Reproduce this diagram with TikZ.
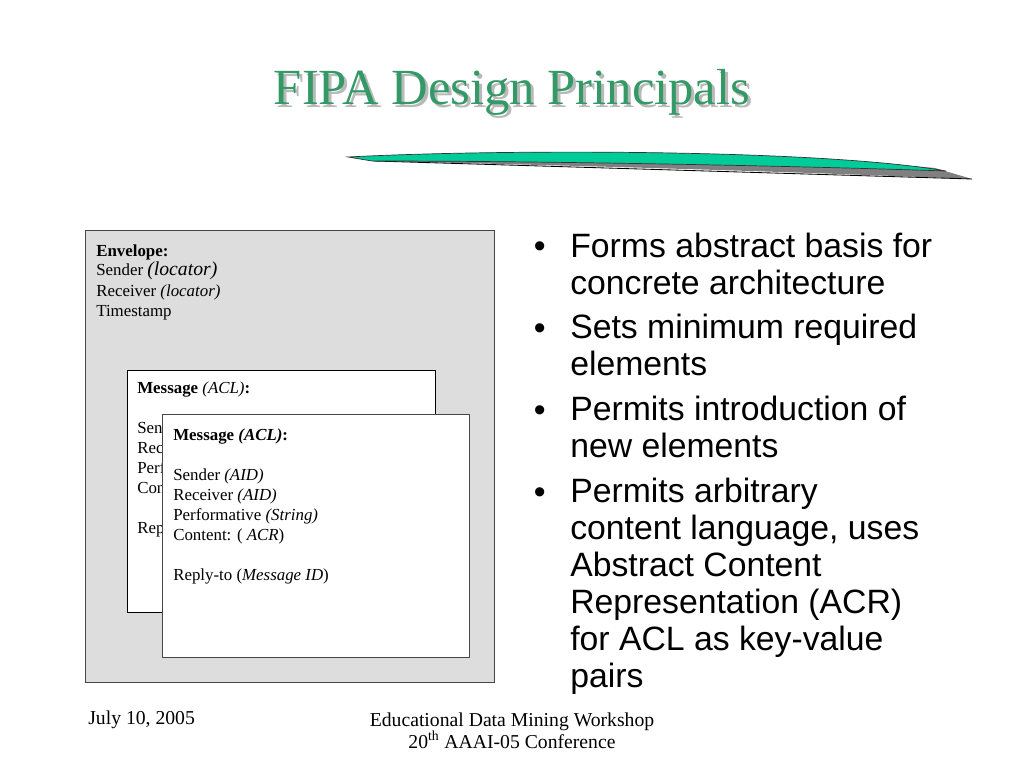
\documentclass[tikz,border=0pt]{standalone}
\usepackage{fontspec}
\setmainfont{Liberation Serif}
\newfontfamily\bulletfont{Liberation Sans}
\usetikzlibrary{positioning}
\definecolor{titlegreen}{RGB}{51,153,102}
\definecolor{swooshgreen}{RGB}{0,204,153}
\definecolor{envgray}{RGB}{221,221,221}
\definecolor{edgegray}{RGB}{70,70,70}

\begin{document}
\begin{tikzpicture}[x=0.025cm,y=-0.025cm,
  boxtext/.style={anchor=base west,inner sep=0pt,align=left,font=\fontsize{12}{14.2}\selectfont},
  bullettext/.style={anchor=base west,inner sep=0pt,align=left,font=\bulletfont\fontsize{24}{26.3}\selectfont},
  foot/.style={anchor=base,inner sep=0pt,align=center,font=\fontsize{14}{17}\selectfont}]
  \useasboundingbox (0,0) rectangle (1024,768);
  \fill[white] (0,0) rectangle (1024,768);
  % title with shadow
  \node[anchor=base,inner sep=0pt,text=gray!55,font=\fontsize{36}{40}\selectfont] at (515,108) {FIPA Design Principals};
  \node[anchor=base,inner sep=0pt,text=titlegreen,font=\fontsize{36}{40}\selectfont] (title) at (512,105) {FIPA Design Principals};
  % swoosh
  \fill[gray] (374,161) .. controls (600,158) and (850,160) .. (935,168) -- (972,179) .. controls (800,172) and (600,166) .. cycle;
  \draw[black,line width=0.6pt] (374,161) -- (972,179);
  \filldraw[fill=swooshgreen,draw=black!80,line width=0.5pt] (348,157) .. controls (500,149) and (820,149) .. (946,171) .. controls (800,166) and (550,161) .. (372,161) -- cycle;
  % envelope and messages (base = last line)
  \filldraw[fill=envgray,draw=edgegray] (85,230) rectangle (494,682);
  \node[boxtext] (env) at (96,316) {\textbf{Envelope:}\\[-0.5pt]
    Sender {\fontsize{14}{14.2}\selectfont\textit{(locator)}}\\[0.5pt]
    Receiver \textit{(locator)}\\[0pt]
    Timestamp};
  \filldraw[fill=white,draw=black] (127,370) rectangle (435,612);
  \node[boxtext] (msgback) at (137,533) {\textbf{Message} \textit{(ACL)}\textbf{:}\\[14.2pt]
    Sender \textit{(AID)}\\ Receiver \textit{(AID)}\\ Performative \textit{(String)}\\ Content: ( \textit{ACR})\\[14.2pt]
    Reply-to (\textit{Message ID})};
  \filldraw[fill=white,draw=edgegray] (162,414) rectangle (469,657);
  \node[boxtext] (msgfront) at (173,580) {\textbf{Message \textit{(ACL)}:}\\[14.2pt]
    Sender \textit{(AID)}\\ Receiver \textit{(AID)}\\ Performative \textit{(String)}\\ Content: ( \textit{ACR})\\[14.2pt]
    Reply-to (\textit{Message ID})};
  % bullets
  \foreach \y/\last/\txt in {257/294/{Forms abstract basis for\\concrete architecture},
                       339/375/{Sets minimum required\\elements},
                       421/457/{Permits introduction of\\new elements},
                       503/687/{Permits arbitrary\\content language, uses\\Abstract Content\\Representation (ACR)\\for ACL as key-value\\pairs}}{
    \node[bullettext] (b\y) at (570,\last) {\txt};
    \node[bullettext,anchor=base east] (dot\y) at (546,\y) {\textbullet};
  }
  % footer
  \node[foot,anchor=base west] (date) at (88,724) {July 10, 2005};
  \node[foot] (conf) at (512,748) {Educational Data Mining Workshop\\[-2pt]20\textsuperscript{th} AAAI-05 Conference};
\end{tikzpicture}
\end{document}
